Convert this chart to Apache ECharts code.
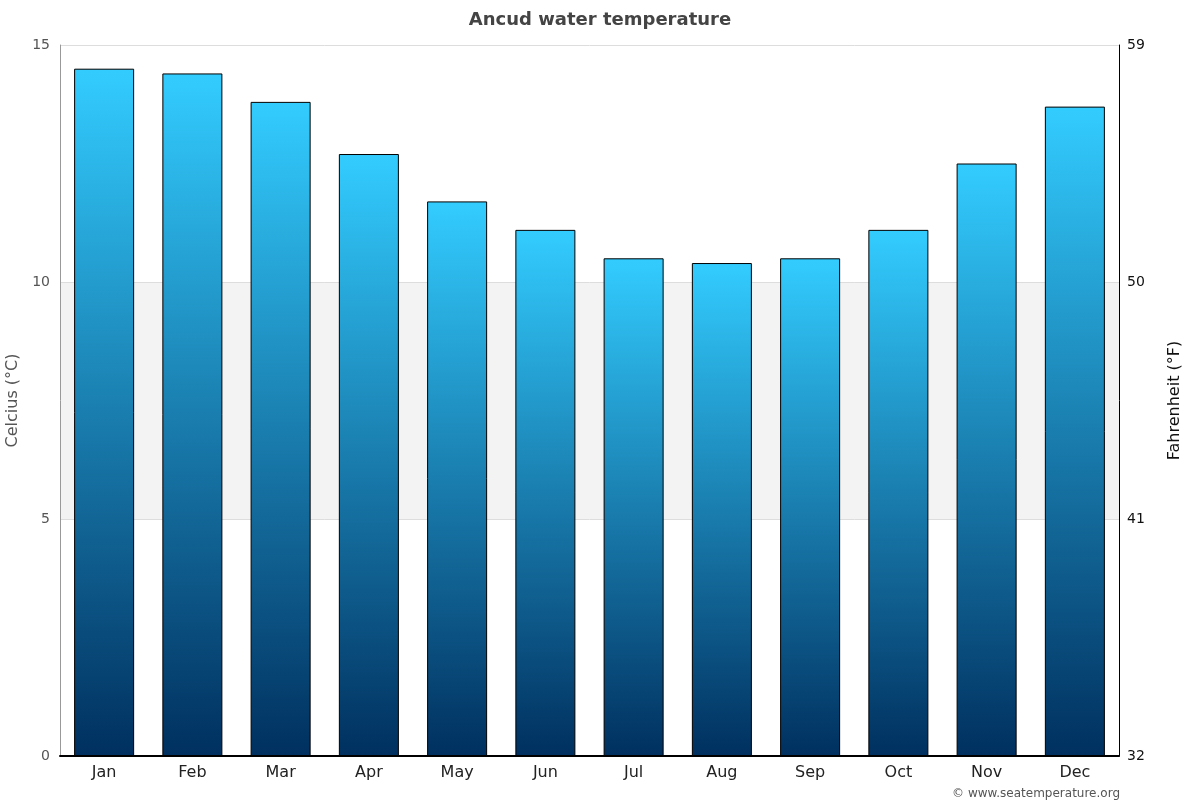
<!DOCTYPE html>
<html><head><meta charset="utf-8">
<script src="https://cdn.jsdelivr.net/npm/echarts@6/dist/echarts.min.js"></script>
<style>html,body{margin:0;padding:0;background:#fff}#c{width:1200px;height:800px}</style>
</head><body><div id="c"></div>
<script>
const months = ['Jan','Feb','Mar','Apr','May','Jun','Jul','Aug','Sep','Oct','Nov','Dec'];
const waterTempC = [14.5,14.4,13.8,12.7,11.7,11.1,10.5,10.4,10.5,11.1,12.5,13.7];
const celsiusTicks = [0,5,10,15];
const fahrenheitTicks = [32,41,50,59];

const chart = echarts.init(document.getElementById('c'), null, {renderer:'canvas'});
chart.setOption({
  backgroundColor:'#fff',
  animation:false,
  textStyle:{fontFamily:'DejaVu Sans'},
  title:[{text:'Ancud water temperature',left:'center',top:6,
    textStyle:{fontSize:18,fontWeight:'bold',color:'#444',fontFamily:'DejaVu Sans'}},
    {text:'© www.seatemperature.org',right:75,top:783,
    textStyle:{fontSize:12,fontWeight:'normal',color:'#555',fontFamily:'DejaVu Sans'}}],
  grid:{left:60,right:81,top:45,bottom:44,containLabel:false,outerBoundsMode:'none'},
  xAxis:{type:'category',data:months,
    axisLine:{lineStyle:{color:'#000',width:2}},
    axisTick:{show:false},
    axisLabel:{fontSize:16,color:'#222',margin:9}},
  yAxis:[{type:'value',min:celsiusTicks[0],max:celsiusTicks[3],interval:5,position:'left',
    name:'Celcius (°C)',nameLocation:'middle',nameGap:28,nameRotate:90,
    nameTextStyle:{fontSize:16,color:'#555'},
    axisLine:{show:true,lineStyle:{color:'#999'}},
    axisTick:{show:false},
    axisLabel:{fontSize:14,color:'#555',margin:10},
    splitLine:{show:true,lineStyle:{color:'#ddd'}},
    splitArea:{show:true,areaStyle:{color:['rgba(0,0,0,0)','#f3f3f3']}}},
   {type:'value',min:fahrenheitTicks[0],max:fahrenheitTicks[3],interval:9,position:'right',
    name:'Fahrenheit (°F)',nameLocation:'middle',nameGap:48,nameRotate:90,
    nameTextStyle:{fontSize:16,color:'#111'},
    axisLine:{show:true,lineStyle:{color:'#000'}},
    axisTick:{show:false},
    axisLabel:{fontSize:14,color:'#111',margin:8}, 
    splitLine:{show:false}}],
  series:[{type:'bar',data:waterTempC,yAxisIndex:0,barWidth:'68%',
    itemStyle:{borderColor:'#000',borderWidth:1,
      color:new echarts.graphic.LinearGradient(0,0,0,1,[{offset:0,color:'#33ccff'},{offset:1,color:'#00305f'}],false)}}]
});
</script></body></html>
